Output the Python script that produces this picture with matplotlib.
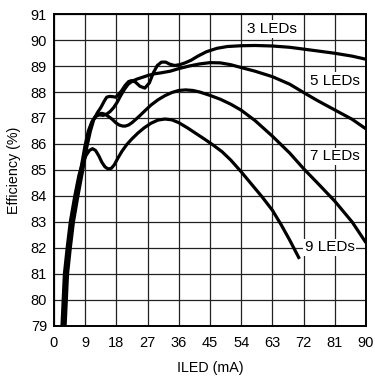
import matplotlib
matplotlib.use("Agg")
import matplotlib.pyplot as plt

plt.rcParams['font.family'] = ['Liberation Sans', 'DejaVu Sans']

# ---- data (ILED in mA, efficiency in %) ----
x3 = [3.1, 3.9, 4.7, 5.6, 6.9, 8.3, 9.5, 10.5, 11.5, 12.5, 13.5, 14.5, 15.2, 16.0, 17.0, 17.8,
      18.6, 19.5, 20.5, 21.5, 22.4, 23.5, 24.8, 26.2, 27.5, 28.7, 29.8, 31.0, 32.2, 33.4, 34.8,
      36.2, 37.8, 39.5, 41.5, 44.0, 47.0, 50.0, 54.0, 58.0, 63.0, 68.0, 72.0, 76.0, 81.0, 86.0, 90.0]
y3 = [78.7, 81.0, 82.0, 83.0, 84.0, 85.0, 85.9, 86.5, 86.95, 87.2, 87.4, 87.65, 87.8, 87.83, 87.82, 87.8,
      87.9, 88.05, 88.25, 88.4, 88.44, 88.38, 88.22, 88.15, 88.35, 88.75, 89.02, 89.15, 89.15, 89.07, 89.02,
      89.05, 89.12, 89.22, 89.38, 89.55, 89.68, 89.75, 89.78, 89.79, 89.77, 89.72, 89.65, 89.58, 89.49, 89.38, 89.26]

x5 = [2.8, 3.6, 4.4, 5.3, 6.6, 8.0, 9.2, 10.2, 11.2, 12.2, 13.2, 14.2, 15.2, 16.2, 17.2, 18.2,
      19.2, 20.3, 21.4, 22.6, 24.0, 25.6, 27.2, 29.0, 31.0, 33.5, 36.0, 39.0, 42.0, 45.0, 48.0,
      51.0, 54.0, 58.0, 63.0, 68.0, 72.0, 76.0, 81.0, 86.0, 90.0]
y5 = [78.7, 81.0, 82.0, 83.0, 84.0, 85.0, 85.9, 86.5, 86.9, 87.08, 87.12, 87.1, 87.15, 87.25, 87.4, 87.6,
      87.85, 88.1, 88.3, 88.42, 88.5, 88.57, 88.64, 88.7, 88.74, 88.8, 88.9, 89.0, 89.08, 89.13, 89.12,
      89.05, 88.94, 88.8, 88.59, 88.3, 87.98, 87.67, 87.31, 86.95, 86.58]

x7 = [2.5, 3.3, 4.1, 5.0, 6.3, 7.7, 8.9, 9.9, 10.9, 11.9, 12.9, 13.8, 14.8, 15.8, 16.8, 17.8,
      18.8, 19.8, 20.6, 21.5, 22.5, 23.7, 25.0, 26.4, 28.0, 30.0, 32.0, 34.0, 36.0, 38.0, 40.0,
      42.0, 45.0, 48.0, 51.0, 54.0, 58.0, 63.0, 68.0, 72.0, 76.0, 81.0, 86.0, 90.0]
y7 = [78.7, 81.0, 82.0, 83.0, 84.0, 85.0, 85.9, 86.5, 86.85, 87.05, 87.15, 87.18, 87.14, 87.05, 86.95, 86.82,
      86.73, 86.69, 86.69, 86.73, 86.82, 86.96, 87.12, 87.3, 87.5, 87.7, 87.86, 87.98, 88.06, 88.08, 88.06,
      88.0, 87.87, 87.72, 87.53, 87.3, 86.9, 86.3, 85.65, 85.05, 84.5, 83.8, 83.0, 82.2]

x9 = [2.2, 3.0, 3.8, 4.7, 6.0, 7.2, 8.3, 9.2, 10.2, 11.1, 12.0, 12.9, 13.8, 14.7, 15.6, 16.5,
      17.4, 18.4, 19.6, 21.0, 22.5, 24.2, 26.0, 28.0, 30.0, 32.0, 34.0, 36.0, 38.5, 41.0, 43.5,
      46.0, 48.5, 51.0, 54.0, 57.0, 60.0, 63.0, 65.5, 68.0, 70.8]
y9 = [78.7, 81.0, 82.0, 83.0, 84.0, 84.8, 85.3, 85.55, 85.75, 85.82, 85.75, 85.55, 85.3, 85.12, 85.04, 85.06,
      85.2, 85.45, 85.72, 85.98, 86.2, 86.42, 86.62, 86.8, 86.92, 86.96, 86.93, 86.82, 86.62, 86.4, 86.18,
      85.95, 85.7, 85.38, 84.93, 84.45, 83.97, 83.45, 82.9, 82.3, 81.58]

series = [(x3, y3), (x5, y5), (x7, y7), (x9, y9)]
labels = ["3 LEDs", "5 LEDs", "7 LEDs", "9 LEDs"]
label_pos = [(63.0, 90.42), (81.0, 88.42), (81.0, 85.52), (79.5, 82.02)]

xticks = [0, 9, 18, 27, 36, 45, 54, 63, 72, 81, 90]
yticks = list(range(79, 92))

fig = plt.figure(figsize=(3.75, 3.79), dpi=100)
ax = fig.add_axes([0.144, 0.140, 0.832, 0.823])

for xs, ys in series:
    ax.plot(xs, ys, color='black', lw=2.3, solid_capstyle='butt', solid_joinstyle='round', zorder=4)

for (tx, ty), lab in zip(label_pos, labels):
    ax.text(tx, ty, lab, ha='center', va='center', fontsize=11, color='black', zorder=3,
            bbox=dict(boxstyle='square,pad=0.12', facecolor='white', edgecolor='none'))

ax.set_xlim(0, 90)
ax.set_ylim(79, 91)
ax.set_xticks(xticks)
ax.set_yticks(yticks)
ax.grid(True, color='#222222', lw=0.9, zorder=1)
ax.set_axisbelow(True)
ax.tick_params(axis='both', length=0, labelsize=10.5, colors='black')
ax.tick_params(axis='x', pad=7)
ax.tick_params(axis='y', pad=5)
for s in ax.spines.values():
    s.set_linewidth(1.4)
    s.set_color('black')

ax.set_xlabel("ILED (mA)", fontsize=10.3, labelpad=8)
ax.set_ylabel("Efficiency (%)", fontsize=10.3, labelpad=7)

fig.savefig("out.png", dpi=100)
